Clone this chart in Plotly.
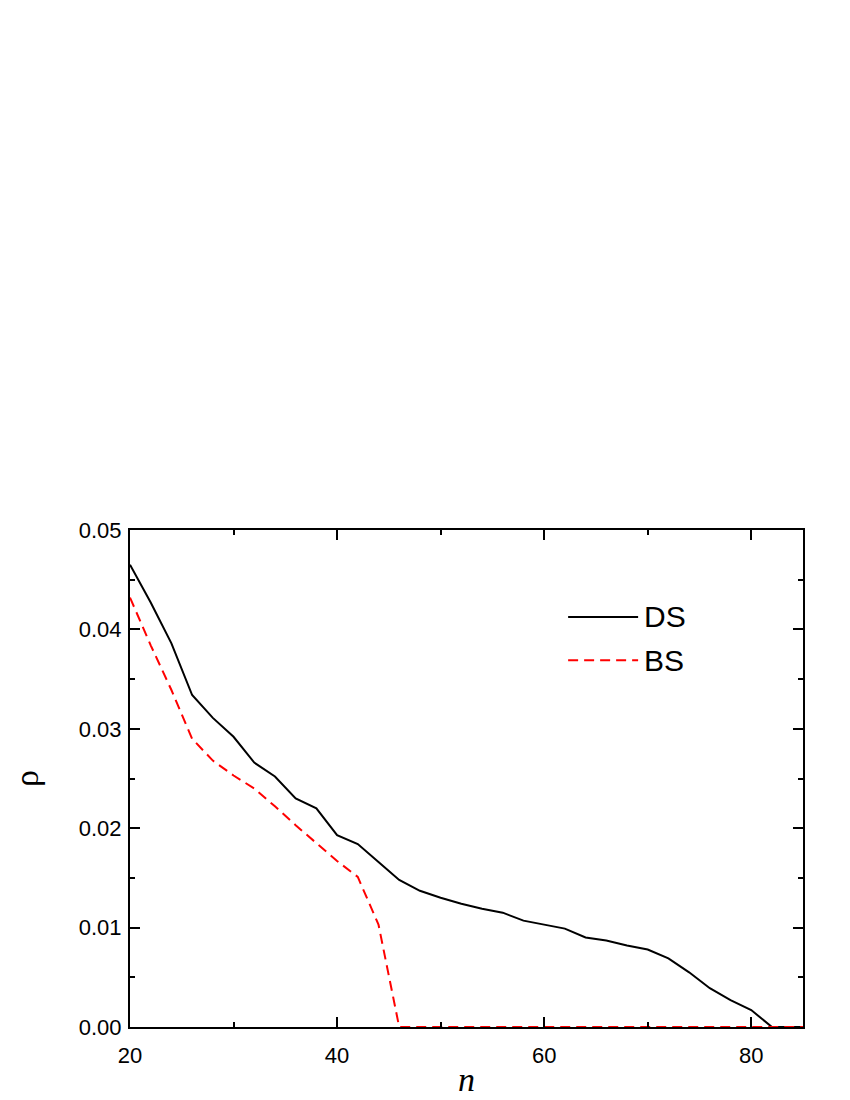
import plotly.graph_objects as go

n_ds = [20, 22, 24, 26, 28, 30, 32, 34, 36, 38, 40, 42, 44, 46, 48, 50, 52, 54, 56, 58,
        60, 62, 64, 66, 68, 70, 72, 74, 76, 78, 80, 82, 84, 86]
rho_ds = [0.0465, 0.0427, 0.0386, 0.0334, 0.0311, 0.0292, 0.0266, 0.0252, 0.0230, 0.0220,
          0.0193, 0.0184, 0.0166, 0.0148, 0.0137, 0.0130, 0.0124, 0.0119, 0.0115, 0.0107,
          0.0103, 0.0099, 0.0090, 0.0087, 0.0082, 0.0078, 0.0069, 0.0055, 0.0039, 0.0027,
          0.0017, 0.0000, 0.0000, 0.0000]

n_bs = [20, 22, 24, 26, 28, 30, 32, 34, 36, 38, 40, 42, 44, 46, 48, 50, 52, 54, 56, 58,
        60, 62, 64, 66, 68, 70, 72, 74, 76, 78, 80, 82, 84, 86]
rho_bs = [0.0432, 0.0384, 0.0339, 0.0290, 0.0268, 0.0253, 0.0240, 0.0222, 0.0203, 0.0185,
          0.0167, 0.0151, 0.0103, 0.0000, 0.0000, 0.0000, 0.0000, 0.0000, 0.0000, 0.0000,
          0.0000, 0.0000, 0.0000, 0.0000, 0.0000, 0.0000, 0.0000, 0.0000, 0.0000, 0.0000,
          0.0000, 0.0000, 0.0000, 0.0000]

series_names = ["DS", "BS"]
x_ticks = [20, 40, 60, 80]
y_ticks = [0.00, 0.01, 0.02, 0.03, 0.04, 0.05]
y_tick_text = ["0.00", "0.01", "0.02", "0.03", "0.04", "0.05"]

colors = ["black", "red"]
dashes = ["solid", "10px,6px"]

fig = go.Figure()
fig.add_trace(go.Scatter(x=n_ds, y=rho_ds, mode="lines", name=series_names[0],
                         line=dict(color=colors[0], width=2, dash=dashes[0]), showlegend=False))
fig.add_trace(go.Scatter(x=n_bs, y=rho_bs, mode="lines", name=series_names[1],
                         line=dict(color=colors[1], width=2, dash=dashes[1]), showlegend=False))

axis_common = dict(showline=True, linewidth=2, linecolor="black", mirror="ticks",
                   ticks="inside", tickwidth=1.5, ticklen=10, tickcolor="black",
                   showgrid=False, zeroline=False,
                   tickfont=dict(family="Liberation Sans, Arial", size=22, color="black"))

fig.update_xaxes(range=[20, 85], tickvals=x_ticks, ticklabelstandoff=8,
                 minor=dict(ticks="inside", ticklen=5, dtick=10, tick0=20, tickcolor="black", tickwidth=1.5),
                 title=dict(text="<i>n</i>", font=dict(family="Liberation Serif, Times New Roman", size=34, color="black"),
                            standoff=0),
                 **axis_common)
fig.update_yaxes(range=[0, 0.05], tickvals=y_ticks, ticktext=y_tick_text, ticklabelstandoff=2,
                 minor=dict(ticks="inside", ticklen=5, dtick=0.005, tick0=0, tickcolor="black", tickwidth=1.5),
                 title=dict(text="ρ", font=dict(family="Liberation Serif, Times New Roman", size=34, color="black"),
                            standoff=30),
                 **axis_common)

# Legend drawn as line samples + text labels (long line samples like the original)
legend_y = [0.825, 0.738]
for name, col, dsh, ly in zip(series_names, colors, dashes, legend_y):
    fig.add_shape(type="line", xref="x domain", yref="y domain",
                  x0=0.651, x1=0.755, y0=ly, y1=ly,
                  line=dict(color=col, width=2, dash=dsh))
    fig.add_annotation(xref="x domain", yref="y domain", x=0.761, y=ly,
                       text=name, showarrow=False, xanchor="left", yanchor="middle",
                       font=dict(family="Liberation Sans, Arial", size=30, color="black"))

fig.update_layout(width=850, height=1100,
                  margin=dict(l=122, r=55, t=522, b=81),
                  plot_bgcolor="white", paper_bgcolor="white",
                  showlegend=False)

fig.write_html("out.html")
